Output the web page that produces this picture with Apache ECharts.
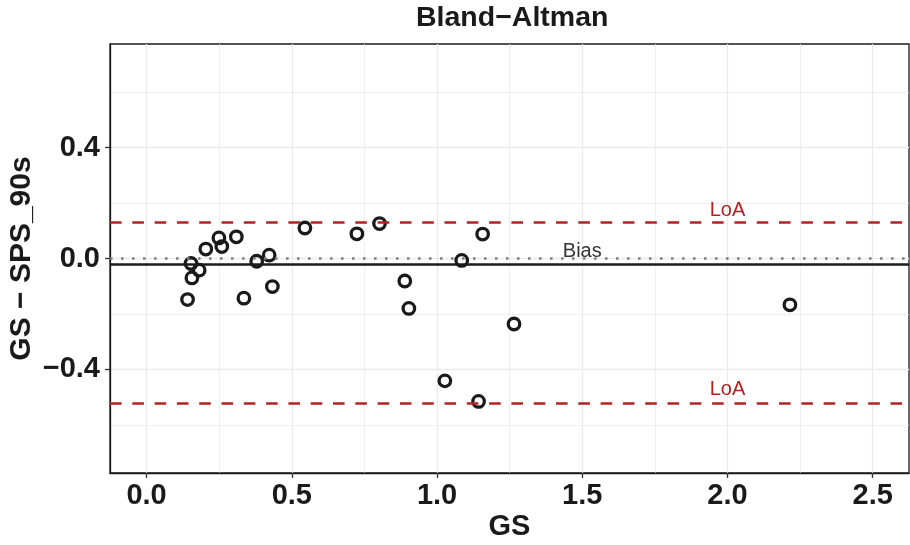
<!DOCTYPE html>
<html>
<head>
<meta charset="utf-8">
<title>Bland-Altman</title>
<script src="https://cdn.jsdelivr.net/npm/echarts@6/dist/echarts.min.js"></script>
<style>
  html, body { margin: 0; padding: 0; background: #fff; }
  #chart { width: 910px; height: 545px; }
</style>
</head>
<body>
<div id="chart"></div>
<script>
// GS (x) against GS - SPS_90s (y)
const gsValues = [0.141, 0.153, 0.156, 0.181, 0.204, 0.249, 0.259, 0.309, 0.335, 0.379, 0.422, 0.433,
  0.545, 0.724, 0.802, 0.889, 0.903, 1.027, 1.085, 1.143, 1.157, 1.265, 2.215];
const diffValues = [-0.148, -0.018, -0.070, -0.042, 0.034, 0.074, 0.043, 0.078, -0.143, -0.010, 0.012, -0.101,
  0.110, 0.089, 0.126, -0.081, -0.180, -0.441, -0.007, -0.515, 0.088, -0.236, -0.167];

// horizontal reference lines
const zeroLine = 0;
const biasValue = -0.018;
const loaUpper = 0.125;
const loaLower = -0.515;

// text notes next to the lines
const noteText = ['Bias', 'LoA', 'LoA'];
const noteX = [1.5, 2.0, 2.0];
const noteY = [0.026, 0.174, -0.471];

// axes
const xRange = [-0.126, 2.625];
const yRange = [-0.773, 0.773];
const xTickValues = [0, 0.5, 1, 1.5, 2, 2.5];
const xMinorValues = [0.25, 0.75, 1.25, 1.75, 2.25];
const yTickValues = [-0.4, 0, 0.4];
const yMinorValues = [-0.6, -0.2, 0.2, 0.6];

const FONT = 'Liberation Sans, Arial, Helvetica, sans-serif';
const RED = '#B22222';
const INK = '#1a1a1a';

// 0.0 / -0.4 with a real minus sign
const fmt = v => v.toFixed(1).replace('-', '\u2212');

const chart = echarts.init(document.getElementById('chart'), null, { renderer: 'canvas' });

const points = gsValues.map((x, i) => [x, diffValues[i]]);
const notes = noteText.map((t, i) => ({
  value: [noteX[i], noteY[i], t],
  label: { color: t === 'LoA' ? RED : '#333333' }
}));

const option = {
  animation: false,
  backgroundColor: '#ffffff',
  title: {
    text: 'Bland\u2212Altman',
    left: 416,
    top: 4,
    padding: 0,
    textStyle: { fontFamily: FONT, fontSize: 28.5, fontWeight: 'bold', color: INK }
  },
  grid: {
    left: 110, right: 1, top: 44, bottom: 72,
    outerBoundsMode: 'none',
    containLabel: false,
    show: true,
    borderColor: INK,
    borderWidth: 1.3,
    backgroundColor: '#ffffff'
  },
  xAxis: [{
    type: 'value',
    min: xRange[0], max: xRange[1],
    name: 'GS',
    nameLocation: 'middle',
    nameGap: 39,
    nameMoveOverlap: false,
    nameTextStyle: { fontFamily: FONT, fontSize: 29, fontWeight: 'bold', color: INK },
    axisLine: { show: true, onZero: false, lineStyle: { color: INK, width: 1.3 } },
    axisTick: { show: true, length: 5, customValues: xTickValues, lineStyle: { color: '#333', width: 1.3 } },
    axisLabel: {
      customValues: xTickValues, margin: 8, formatter: fmt,
      fontFamily: FONT, fontSize: 29, fontWeight: 'bold', color: INK
    },
    splitLine: { show: true, lineStyle: { color: '#EBEBEB', width: 1.3 } }
  }, {
    // minor grid only
    type: 'value',
    min: xRange[0], max: xRange[1],
    position: 'bottom',
    axisLine: { show: false },
    axisTick: { show: false, customValues: xMinorValues },
    axisLabel: { show: false },
    splitLine: { show: true, lineStyle: { color: '#EBEBEB', width: 0.8 } }
  }],
  yAxis: [{
    type: 'value',
    min: yRange[0], max: yRange[1],
    name: 'GS \u2212 SPS_90s',
    nameLocation: 'middle',
    nameGap: 73,
    nameMoveOverlap: false,
    nameTextStyle: { fontFamily: FONT, fontSize: 30, fontWeight: 'bold', color: INK },
    axisLine: { show: true, onZero: false, lineStyle: { color: INK, width: 1.3 } },
    axisTick: { show: true, length: 5, customValues: yTickValues, lineStyle: { color: '#333', width: 1.3 } },
    axisLabel: {
      customValues: yTickValues, margin: 10, formatter: fmt,
      fontFamily: FONT, fontSize: 29, fontWeight: 'bold', color: INK
    },
    splitLine: { show: true, lineStyle: { color: '#EBEBEB', width: 1.3 } }
  }, {
    type: 'value',
    min: yRange[0], max: yRange[1],
    position: 'left',
    axisLine: { show: false },
    axisTick: { show: false, customValues: yMinorValues },
    axisLabel: { show: false },
    splitLine: { show: true, lineStyle: { color: '#EBEBEB', width: 0.8 } }
  }],
  series: [
    {
      // reference lines
      type: 'line',
      data: [],
      z: 2,
      silent: true,
      markLine: {
        silent: true,
        symbol: 'none',
        animation: false,
        label: { show: false },
        data: [
          { yAxis: zeroLine, lineStyle: { color: '#808080', width: 2.6, opacity: 1, type: [2.6, 8.4], cap: 'butt' } },
          { yAxis: biasValue, lineStyle: { color: INK, width: 2.6, opacity: 1, type: 'solid' } },
          { yAxis: loaUpper, lineStyle: { color: RED, width: 2.6, opacity: 1, type: [11.6, 10.7] } },
          { yAxis: loaLower, lineStyle: { color: RED, width: 2.6, opacity: 1, type: [11.6, 10.7] } }
        ]
      }
    },
    {
      type: 'scatter',
      data: points,
      z: 4,
      symbol: 'circle',
      symbolSize: 11.5,
      itemStyle: { color: 'transparent', borderColor: INK, borderWidth: 3.3, opacity: 1 }
    },
    {
      type: 'scatter',
      data: notes,
      z: 5,
      symbolSize: 0.01,
      itemStyle: { opacity: 1 },
      label: {
        show: true,
        position: 'inside',
        formatter: p => p.value[2],
        fontFamily: FONT,
        fontSize: 20
      }
    }
  ]
};

chart.setOption(option);
</script>
</body>
</html>
